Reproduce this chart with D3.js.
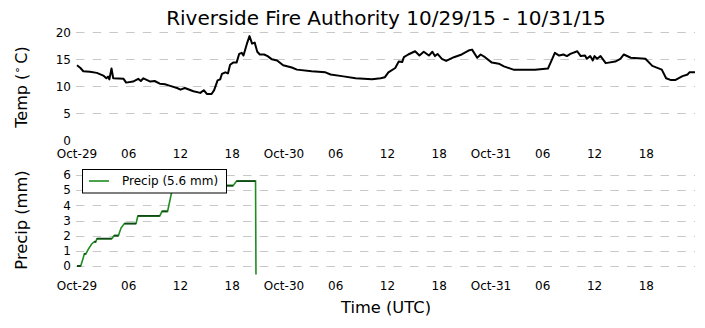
<!DOCTYPE html>
<html><head><meta charset="utf-8">
<script src="https://cdn.jsdelivr.net/npm/d3@7"></script>
<style>
body{margin:0;background:#fff;}
text{font-family:"DejaVu Sans",sans-serif;fill:#000;}
</style></head>
<body><svg id="c" width="705" height="328"></svg>
<script>
const titleText = "Riverside Fire Authority 10/29/15 - 10/31/15";
const startTime = "2015-10-29T00:00:00Z";
const endTime = "2015-10-31T23:39:00Z";
const tempTicks = [0, 5, 10, 15, 20];
const precipTicks = [0, 1, 2, 3, 4, 5, 6];
// hours since start, temperature (°C)
const tempHours = [0,0.4,0.73,1.5,2.3,3.05,3.4,3.6,3.75,4.0,4.2,5.4,5.7,6.5,7.1,7.4,7.7,8.5,9.0,9.6,10.2,10.8,11.6,12.0,12.5,13.5,14.3,14.7,15.05,15.6,15.9,16.3,16.6,16.8,17.2,17.5,17.75,18.1,18.5,18.8,19.1,19.3,19.7,20.0,20.3,20.6,20.9,21.2,21.7,22.1,22.6,23.2,23.9,24.9,25.5,27.2,28.8,29.4,30.7,32.3,34.2,35.2,35.7,36.1,36.9,37.3,37.7,37.9,38.4,39.2,39.7,40.2,40.8,41.2,41.5,41.8,42.3,42.8,43.7,44.6,45.5,45.8,46.4,46.8,47.3,48.1,48.9,49.5,50.6,53.1,54.6,55.1,55.4,55.9,56.4,56.8,57.2,58.0,58.4,58.9,59.1,59.5,59.8,60.0,60.3,60.7,61.3,62.4,63.0,63.4,64.2,65.9,66.7,67.8,68.3,68.8,69.4,70.2,70.8,71.0,71.65];
const tempValues = [13.9,13.4,12.8,12.7,12.5,12.0,11.5,11.8,11.3,13.3,11.5,11.4,10.7,10.9,11.4,11.0,11.5,10.9,11.0,10.5,10.4,10.1,9.7,9.4,9.7,9.1,8.8,9.3,8.6,8.6,9.3,11.1,11.3,12.3,12.6,12.4,14.0,14.4,14.4,16.0,16.2,15.7,17.9,19.3,17.9,18.1,16.4,15.9,15.9,15.6,15.0,14.8,13.9,13.5,13.1,12.8,12.6,12.2,11.9,11.5,11.3,11.5,11.7,12.6,13.4,14.6,14.5,15.4,15.9,16.5,15.7,16.4,15.7,16.4,15.6,16.0,15.1,14.7,15.4,15.9,16.7,16.8,15.3,15.9,15.4,14.4,14.2,13.7,13.1,13.1,13.3,15.1,16.2,15.7,15.9,15.6,16.0,16.5,15.6,15.7,15.1,15.6,14.8,15.6,15.1,15.6,14.3,14.6,15.1,15.9,15.3,15.1,13.8,13.1,11.5,11.2,11.2,11.9,12.2,12.6,12.6];
// hours since start, cumulative precipitation (mm)
const precipHours = [0,0.43,0.7,0.85,1.03,1.3,1.7,2.0,2.2,2.3,4.03,4.3,4.8,5.1,5.5,6.85,7.05,9.6,9.85,10.5,10.95,11.3,12.5,14.0,15.5,18.1,18.5,20.7,20.75];
const precipValues = [0,0,0.5,0.8,0.8,1.1,1.45,1.6,1.6,1.8,1.8,2.0,2.0,2.5,2.8,2.8,3.3,3.3,3.6,3.6,4.8,5.0,5.1,5.2,5.3,5.3,5.6,5.6,-0.6];
const legendLabel = "Precip (5.6 mm)";

const svg = d3.select("#c");
const t0 = new Date(startTime);
const toDate = h => new Date(t0.getTime() + h * 3600e3);
const x = d3.scaleUtc().domain([t0, new Date(endTime)]).range([77, 695]);
const yT = d3.scaleLinear().domain([0, 20]).range([140.5, 32.3]);
const yP = d3.scaleLinear().domain([0, 6]).range([266, 175]);
const fmt = d => d.getUTCHours() === 0 ? d3.utcFormat("%b-%d")(d) : d3.utcFormat("%H")(d);
const xTicks = d3.utcHour.every(6).range(t0, new Date(endTime));

function grid(scale, ticks) {
  const g = svg.append("g");
  g.selectAll("line").data(ticks).join("line")
    .attr("x1", 76).attr("x2", 695)
    .attr("y1", d => Math.round(scale(d)) + 0.5).attr("y2", d => Math.round(scale(d)) + 0.5)
    .attr("stroke", "#c8c8c8").attr("stroke-width", 1).attr("stroke-dasharray", "8.5,8.2");
  svg.append("g").selectAll("text").data(ticks).join("text")
    .attr("x", 71).attr("y", d => scale(d)).attr("dy", "0.36em")
    .attr("text-anchor", "end").style("font-size", "12px").text(d => d);
}
grid(yT, tempTicks.filter(d => d > 0));
svg.append("text").attr("x", 71).attr("y", yT(0)).attr("dy", "0.36em").attr("text-anchor", "end").style("font-size", "12px").text(0);
grid(yP, precipTicks);

function xLabels(yb) {
  svg.append("g").selectAll("text").data(xTicks).join("text")
    .attr("x", d => x(d)).attr("y", yb).attr("text-anchor", "middle")
    .style("font-size", "12px").text(fmt);
}
xLabels(158);
xLabels(290);

// temp line
const tempData = tempHours.map((h, i) => [toDate(h), tempValues[i]]);
svg.append("path").datum(tempData)
  .attr("d", d3.line().x(d => x(d[0])).y(d => yT(d[1])))
  .attr("fill", "none").attr("stroke", "#000").attr("stroke-width", 2).attr("stroke-linejoin", "round");

// precip line
svg.append("clipPath").attr("id", "pc").append("rect").attr("x", 60).attr("y", 160).attr("width", 640).attr("height", 114.5);
const precipData = precipHours.map((h, i) => [toDate(h), precipValues[i]]);
const pg = svg.append("g").attr("clip-path", "url(#pc)");
pg.append("path").datum(precipData)
  .attr("d", d3.line().x(d => x(d[0])).y(d => yP(d[1])))
  .attr("fill", "none").attr("stroke", "#1e8c1e").attr("stroke-width", 1.6);
const flats = precipData.slice(1).map((d, i) => [precipData[i], d]).filter(p => p[0][1] === p[1][1]);
pg.selectAll("line.f").data(flats).join("line").attr("class", "f")
  .attr("x1", d => x(d[0][0])).attr("x2", d => x(d[1][0]))
  .attr("y1", d => yP(d[0][1])).attr("y2", d => yP(d[1][1]))
  .attr("stroke", "#0f4a14").attr("stroke-width", 1.8);

// legend
const lg = svg.append("g");
lg.append("rect").attr("x", 82.5).attr("y", 169.5).attr("width", 144).attr("height", 23.5)
  .attr("fill", "#fff").attr("stroke", "#000").attr("stroke-width", 1);
lg.append("line").attr("x1", 89).attr("x2", 109).attr("y1", 181).attr("y2", 181)
  .attr("stroke", "#1e8c1e").attr("stroke-width", 1.6);
lg.append("text").attr("x", 122).attr("y", 181).attr("dy", "0.36em").style("font-size", "12px").text(legendLabel);

// titles
svg.append("text").attr("x", 386).attr("y", 25).attr("text-anchor", "middle").style("font-size", "20px").text(titleText);
const tl = svg.append("text").attr("transform", "translate(26.5,87) rotate(-90)").attr("text-anchor", "middle").style("font-size", "16px");
tl.append("tspan").text("Temp (");
tl.append("tspan").attr("dy", -6).style("font-size", "11px").text("\u2218");
tl.append("tspan").attr("dy", 6).text("\u2009C)");
svg.append("text").attr("transform", "translate(27,220) rotate(-90)").attr("text-anchor", "middle").style("font-size", "16.3px").text("Precip (mm)");
svg.append("text").attr("x", 386).attr("y", 313).attr("text-anchor", "middle").style("font-size", "16.3px").text("Time (UTC)");
</script></body></html>
